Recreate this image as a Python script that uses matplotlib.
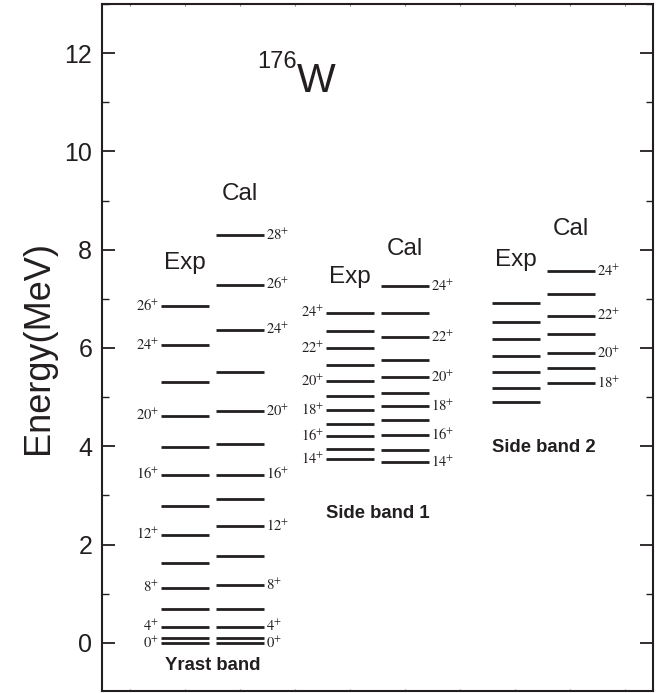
import matplotlib
matplotlib.use("Agg")
import matplotlib.pyplot as plt
from matplotlib.ticker import MultipleLocator, FixedLocator, NullFormatter

plt.rcParams['font.family'] = ['Liberation Sans', 'DejaVu Sans']
plt.rcParams['mathtext.fontset'] = 'stix'

# level energies (MeV), read band by band
yrast_spin = [0, 2, 4, 6, 8, 10, 12, 14, 16, 18, 20, 22, 24, 26, 28]
yrast_exp = [0.0, 0.10, 0.33, 0.69, 1.12, 1.62, 2.20, 2.79, 3.42, 3.99, 4.62, 5.31, 6.06, 6.85]
yrast_cal = [0.0, 0.09, 0.33, 0.69, 1.17, 1.76, 2.37, 2.92, 3.42, 4.04, 4.72, 5.52, 6.37, 7.29, 8.30]
yrast_exp_lab = [0, 4, 8, 12, 16, 20, 24, 26]
yrast_cal_lab = [0, 4, 8, 12, 16, 20, 24, 26, 28]

sb1_spin = [14, 15, 16, 17, 18, 19, 20, 21, 22, 23, 24]
sb1_exp = [3.74, 3.95, 4.21, 4.46, 4.74, 5.03, 5.33, 5.66, 5.99, 6.35, 6.72]
sb1_cal = [3.67, 3.92, 4.22, 4.54, 4.81, 5.09, 5.41, 5.75, 6.22, 6.72, 7.26]
sb1_exp_lab = [14, 16, 18, 20, 22, 24]
sb1_cal_lab = [14, 16, 18, 20, 22, 24]

sb2_spin = [18, 19, 20, 21, 22, 23, 24]
sb2_exp = [4.90, 5.18, 5.51, 5.84, 6.18, 6.53, 6.91]
sb2_cal = [5.28, 5.60, 5.89, 6.28, 6.66, 7.10, 7.57]
sb2_exp_lab = []
sb2_cal_lab = [18, 20, 22, 24]

bands = [
    # name, x start, spins, exp, cal, exp labels, cal labels, name y, exp/cal header y
    ("Yrast band", 1.07, yrast_spin, yrast_exp, yrast_cal, yrast_exp_lab, yrast_cal_lab, -0.56, 7.60, 9.02),
    ("Side band 1", 4.07, sb1_spin, sb1_exp, sb1_cal, sb1_exp_lab, sb1_cal_lab, 2.54, 7.32, 7.89),
    ("Side band 2", 7.08, sb2_spin, sb2_exp, sb2_cal, sb2_exp_lab, sb2_cal_lab, 3.89, 7.67, 8.30),
]

w = 0.87     # level line length
gap = 1.0    # offset of Cal column from Exp column
ink = '#231f20'

fig = plt.figure(figsize=(6.7, 6.93), dpi=100)
ax = fig.add_axes([0.1522, 0.0029, 0.8224, 0.9913])

lab_kw = dict(fontsize=10.5, color=ink)
for name, x0, spins, exp, cal, exp_lab, cal_lab, name_y, exp_y, cal_y in bands:
    xe0, xe1 = x0, x0 + w
    xc0, xc1 = x0 + gap, x0 + gap + w
    ax.hlines(exp, xe0, xe1, colors=ink, lw=2.0)
    ax.hlines(cal, xc0, xc1, colors=ink, lw=2.0)
    for s, e in zip(spins, exp):
        if s in exp_lab:
            ax.text(xe0 - 0.03, e, r'$%d^{+}$' % s, ha='right', va='center', **lab_kw)
    for s, e in zip(spins, cal):
        if s in cal_lab:
            ax.text(xc1 + 0.03, e, r'$%d^{+}$' % s, ha='left', va='center', **lab_kw)
    ax.text((xe0 + xe1) / 2, exp_y, "Exp", ha='center', va='baseline', fontsize=17.5, color=ink)
    ax.text((xc0 + xc1) / 2, cal_y, "Cal", ha='center', va='baseline', fontsize=17.5, color=ink)
    ax.text((xe0 + xc1) / 2, name_y, name, ha='center', va='baseline', fontsize=13.3,
            fontweight='bold', color=ink)

ax.text(2.81, 11.69, "176", ha='left', va='baseline', fontsize=17, color=ink)
ax.text(3.53, 11.21, "W", ha='left', va='baseline', fontsize=29.5, color=ink)

ax.set_xlim(0, 10)
ax.set_ylim(-0.98, 13.0)
ax.set_yticks([0, 2, 4, 6, 8, 10, 12])
ax.yaxis.set_minor_locator(MultipleLocator(1))
ax.xaxis.set_major_locator(FixedLocator([0.5 + i for i in range(10)]))
ax.xaxis.set_major_formatter(NullFormatter())
ax.tick_params(axis='y', which='major', direction='in', length=9.5, width=1.3,
               right=True, labelsize=18, pad=7, colors=ink)
ax.tick_params(axis='y', which='minor', direction='in', length=5, width=1.0, right=True, colors=ink)
ax.tick_params(axis='x', which='major', direction='in', length=1.5, width=0.8, top=True,
               color='#888888')
for sp in ax.spines.values():
    sp.set_linewidth(1.5)
    sp.set_color(ink)

ax.set_ylabel("Energy(MeV)", fontsize=26, color=ink, labelpad=6)

fig.savefig("out.png", dpi=100)
